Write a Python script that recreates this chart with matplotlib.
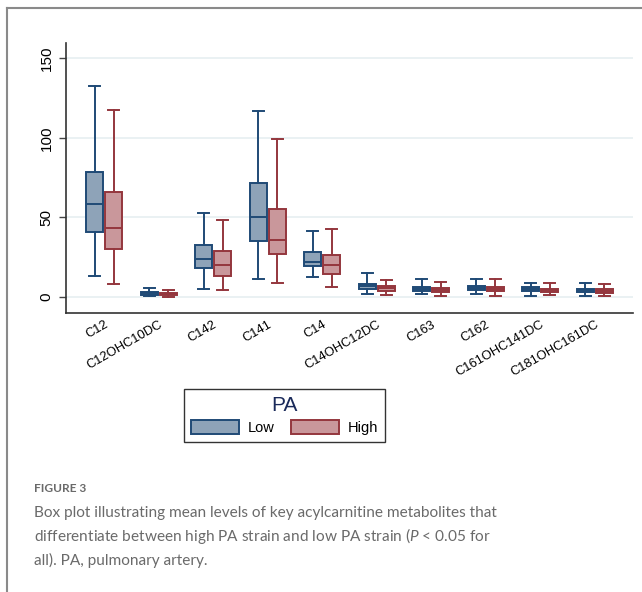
import matplotlib
matplotlib.use("Agg")
import matplotlib.pyplot as plt
from matplotlib.patches import Patch
from matplotlib.lines import Line2D
import numpy as np

plt.rcParams['font.family'] = ['Liberation Sans', 'DejaVu Sans']
plt.rcParams['mathtext.fontset'] = 'custom'
plt.rcParams['mathtext.it'] = 'Lato:italic'
plt.rcParams['mathtext.rm'] = 'Lato'

categories = ["C12", "C12OHC10DC", "C142", "C141", "C14", "C14OHC12DC",
              "C163", "C162", "C161OHC141DC", "C181OHC161DC"]

# Low PA group: whisker low, Q1, median, Q3, whisker high
low_whislo = [13.4, 0.5, 5.2, 11.5, 12.3, 1.7, 1.7, 1.9, 0.8, 0.6]
low_q1     = [40.6, 1.5, 18.0, 35.0, 19.5, 5.2, 3.8, 4.2, 4.0, 2.9]
low_med    = [58.4, 2.3, 24.1, 50.0, 22.2, 6.7, 5.0, 5.6, 5.0, 4.2]
low_q3     = [78.7, 3.2, 32.4, 71.4, 28.4, 8.4, 6.3, 6.9, 6.1, 5.2]
low_whishi = [132.4, 5.5, 52.7, 116.8, 41.2, 14.9, 11.1, 11.3, 9.0, 8.6]

# High PA group
high_whislo = [8.2, 0.3, 4.2, 8.8, 6.5, 1.5, 0.4, 0.8, 1.0, 0.8]
high_q1     = [29.9, 1.0, 13.2, 27.2, 14.7, 4.0, 2.9, 3.6, 2.9, 2.5]
high_med    = [43.5, 1.8, 20.3, 35.6, 19.9, 5.4, 4.4, 5.0, 4.2, 3.8]
high_q3     = [66.1, 2.6, 28.7, 55.4, 26.2, 6.9, 5.4, 6.3, 5.2, 4.8]
high_whishi = [117.6, 4.4, 48.3, 99.4, 42.7, 10.7, 9.6, 11.1, 8.6, 8.2]

yticks = [0, 50, 100, 150]
group_labels = ["Low", "High"]
legend_title = "PA"

blue_edge = "#1f4a76"
blue_fill = "#8ea3b8"
red_edge = "#94363d"
red_fill = "#c9979b"

fig = plt.figure(figsize=(6.42, 5.92), dpi=100)
ax = fig.add_axes([66/642, 1-313/592, (633-66)/642, (313-43)/592])

def stats(wl, q1, md, q3, wh):
    return [dict(whislo=a, q1=b, med=c, q3=d, whishi=e, fliers=[])
            for a, b, c, d, e in zip(wl, q1, md, q3, wh)]

x = np.arange(len(categories))
off = 0.175
w = 0.31
for st, pos, ec, fc in [
    (stats(low_whislo, low_q1, low_med, low_q3, low_whishi), x - off, blue_edge, blue_fill),
    (stats(high_whislo, high_q1, high_med, high_q3, high_whishi), x + off, red_edge, red_fill),
]:
    ax.bxp(st, positions=pos, widths=w, capwidths=w*0.65, showfliers=False,
           patch_artist=True,
           boxprops=dict(facecolor=fc, edgecolor=ec, linewidth=1.4),
           medianprops=dict(color=ec, linewidth=1.4),
           whiskerprops=dict(color=ec, linewidth=1.4),
           capprops=dict(color=ec, linewidth=1.4),
           manage_ticks=False, zorder=3)

ax.set_xlim(-0.7, 9.7)
ax.set_ylim(-10, 159.5)
ax.set_yticks(yticks)
ax.set_yticklabels([str(t) for t in yticks], rotation=90, va='center', fontsize=11)
ax.set_xticks(x)
ax.set_xticklabels(categories, rotation=30, ha='right', rotation_mode='anchor', fontsize=9.3)
ax.tick_params(axis='x', length=0, pad=4)
ax.tick_params(axis='y', length=5, width=1, color='#444444', pad=4)
ax.grid(axis='y', color='#e6eff1', linewidth=1.2, zorder=0)
ax.set_axisbelow(True)
for s in ['top', 'right']:
    ax.spines[s].set_visible(False)
for s in ['left', 'bottom']:
    ax.spines[s].set_color('#333333')
    ax.spines[s].set_linewidth(1.2)

handles = [Patch(facecolor=blue_fill, edgecolor=blue_edge, linewidth=1.4),
           Patch(facecolor=red_fill, edgecolor=red_edge, linewidth=1.4)]
leg = fig.legend(handles, group_labels, title=legend_title, ncol=2,
                 loc='center', bbox_to_anchor=(284.5/642, 1-415.5/592),
                 fontsize=10.5, title_fontsize=15, frameon=True, fancybox=False,
                 edgecolor='black', handlelength=3.3, handleheight=1.1,
                 columnspacing=1.1, handletextpad=0.6, borderpad=0.45,
                 labelspacing=0.35)
leg.get_frame().set_linewidth(1.0)
leg.get_title().set_color('#1a2a5a')

# page frame
fig.add_artist(Line2D([7/642, 7/642], [0, 1-8/592], transform=fig.transFigure,
                      color='#8a8a8a', linewidth=1.5))
fig.add_artist(Line2D([7/642, 1], [1-8/592, 1-8/592], transform=fig.transFigure,
                      color='#8a8a8a', linewidth=1.5))

# caption
fig.text(34/642, 1-492/592, "FIGURE 3", fontsize=8.6, color='#6a6a6a',
         family='Lato', weight='bold', va='baseline')
cap_lines = ["Box plot illustrating mean levels of key acylcarnitine metabolites that",
             "differentiate between high PA strain and low PA strain ($P$ < 0.05 for",
             "all). PA, pulmonary artery."]
for i, line in enumerate(cap_lines):
    fig.text(34/642, 1-(517+24*i)/592, line, fontsize=11.1, color='#6a6a6a',
             family='Lato', va='baseline')

fig.savefig("out.png", dpi=100)
